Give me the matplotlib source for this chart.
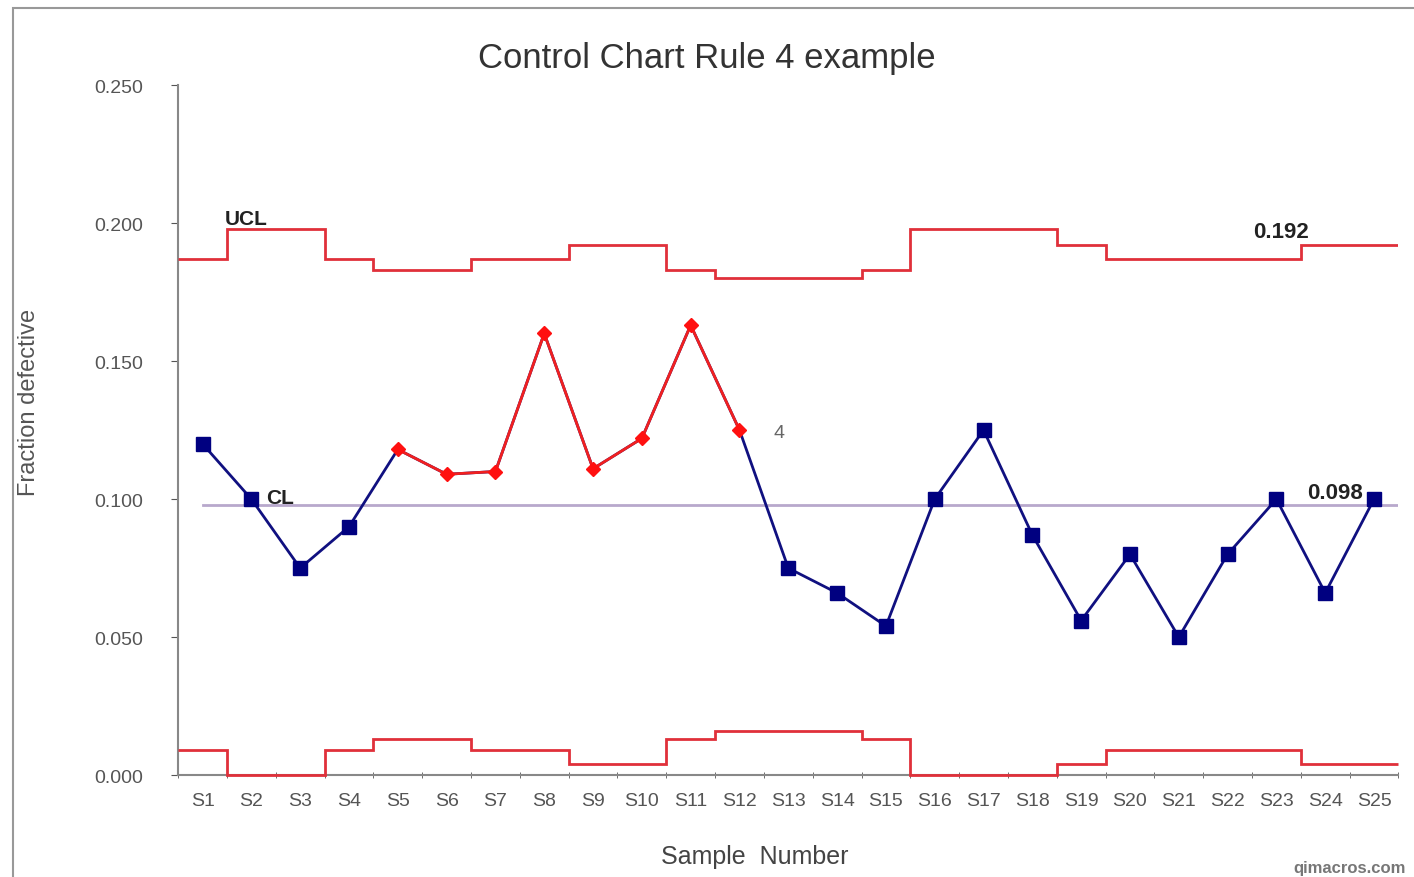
import numpy as np
import matplotlib
matplotlib.use("Agg")
import matplotlib.pyplot as plt
from matplotlib.patches import Rectangle

plt.rcParams['font.family'] = ['Liberation Sans', 'DejaVu Sans']

samples = ["S%d" % i for i in range(1, 26)]
fraction = [0.120, 0.100, 0.075, 0.090, 0.118, 0.109, 0.110, 0.160, 0.111, 0.122,
            0.163, 0.125, 0.075, 0.066, 0.054, 0.100, 0.125, 0.087, 0.056, 0.080,
            0.050, 0.080, 0.100, 0.066, 0.100]
ucl = [0.187, 0.198, 0.198, 0.187, 0.183, 0.183, 0.187, 0.187, 0.192, 0.192,
       0.183, 0.180, 0.180, 0.180, 0.183, 0.198, 0.198, 0.198, 0.192, 0.187,
       0.187, 0.187, 0.187, 0.192, 0.192]
lcl = [0.009, 0.000, 0.000, 0.009, 0.013, 0.013, 0.009, 0.009, 0.004, 0.004,
       0.013, 0.016, 0.016, 0.016, 0.013, 0.000, 0.000, 0.000, 0.004, 0.009,
       0.009, 0.009, 0.009, 0.004, 0.004]
cl = 0.098
rule4_start, rule4_end = 5, 12   # samples flagged by rule 4

x = np.arange(1, len(samples) + 1)
y = np.array(fraction)
flag = (x >= rule4_start) & (x <= rule4_end)
grey = "#555555"

fig = plt.figure(figsize=(14.14, 8.78), dpi=100)
ax = fig.add_axes([0.126, 0.116, 0.863, 0.786])

# control limits as steps centred on each sample
xs = np.concatenate([[0.5], x + 0.5])
ax.stairs(ucl, xs, color="#e0303a", linewidth=2, baseline=None, zorder=3)
ax.stairs(lcl, xs, color="#e0303a", linewidth=2, baseline=None, zorder=3, clip_on=False)
ax.plot([1, 25.5], [cl, cl], color="#b8a8cc", linewidth=2)

ax.plot(x, y, color="#101080", linewidth=2, zorder=4)
ax.plot(x[~flag], y[~flag], linestyle="none", marker="s", markersize=10,
        markerfacecolor="#000080", markeredgecolor="#000080", zorder=5)
ax.plot(x[flag], y[flag], color="#f02020", linewidth=2, marker="D",
        markersize=7, markerfacecolor="#ff1010", markeredgecolor="#ff1010", zorder=5)

ax.text(1.45, 0.2015, "UCL", fontsize=15, fontweight="bold", color="#222222", va="center", ha="left")
ax.text(2.3, 0.1005, "CL", fontsize=15, fontweight="bold", color="#222222", va="center", ha="left")
ax.text(23.1, 0.197, "%.3f" % ucl[-1], fontsize=16, fontweight="bold", color="#222222", ha="center", va="center")
ax.text(24.2, 0.1025, "%.3f" % cl, fontsize=16, fontweight="bold", color="#222222", ha="center", va="center")
ax.text(rule4_end + 0.7, fraction[rule4_end - 1] - 0.001, "4", fontsize=14, color="#666666", va="center")

ax.set_xlim(0.5, 25.5)
ax.set_ylim(0, 0.25)
ax.set_yticks(np.arange(0, 0.251, 0.05))
ax.set_yticklabels(["%.3f" % v for v in np.arange(0, 0.251, 0.05)])
ax.set_xticks(x)
ax.set_xticklabels(samples)
ax.set_xticks(np.arange(0.5, 25.6, 1), minor=True)
ax.tick_params(axis="x", which="major", length=0, labelsize=14, labelcolor=grey, pad=12)
ax.tick_params(axis="x", which="minor", length=4, direction="inout", color=grey)
ax.tick_params(axis="y", labelsize=14, labelcolor=grey, color=grey, length=5, pad=20)
for s in ["top", "right"]:
    ax.spines[s].set_visible(False)
for s in ["left", "bottom"]:
    ax.spines[s].set_color("#888888")
    ax.spines[s].set_linewidth(1.5)

ax.set_xlabel("Sample  Number", fontsize=18, color="#444444")
ax.xaxis.set_label_coords(0.4726, -0.1)
ax.set_ylabel("Fraction defective", fontsize=17, color="#555555")
ax.yaxis.set_label_coords(-0.113, 0.542)
fig.text(0.5, 0.922, "Control Chart Rule 4 example", fontsize=25, color="#333333", ha="center")
fig.text(0.994, 0.006, "qimacros.com", fontsize=12, fontweight="bold", color="#777777", ha="right")

fig.patches.append(Rectangle((0.009, -0.01), 1.2, 1.0, transform=fig.transFigure,
                             fill=False, edgecolor="#999999", linewidth=1.5))

fig.savefig("out.png", dpi=100)
